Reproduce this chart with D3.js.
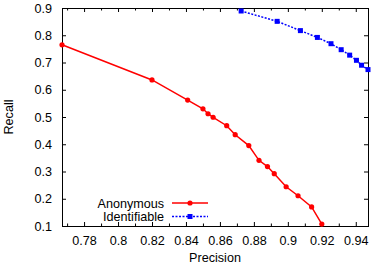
<!DOCTYPE html>
<html>
<head>
<meta charset="utf-8">
<script src="https://cdn.jsdelivr.net/npm/d3@7"></script>
<style>
  body { margin: 0; background: #fff; }
</style>
</head>
<body>
<div id="my_dataviz"></div>
<script>
// values
const anonPrecision = [0.767, 0.820, 0.841, 0.850, 0.853, 0.856, 0.864, 0.869, 0.877, 0.883, 0.888, 0.892, 0.899, 0.906, 0.914, 0.920];
const anonRecall    = [0.765, 0.636, 0.562, 0.530, 0.512, 0.499, 0.468, 0.435, 0.395, 0.341, 0.318, 0.292, 0.244, 0.211, 0.170, 0.107];
const identPrecision = [0.8725, 0.8937, 0.9074, 0.9174, 0.9254, 0.9314, 0.9364, 0.9404, 0.9434, 0.9472];
const identRecall    = [0.889, 0.851, 0.817, 0.792, 0.769, 0.747, 0.727, 0.708, 0.690, 0.674];
const xTicks = [0.78, 0.8, 0.82, 0.84, 0.86, 0.88, 0.9, 0.92, 0.94];
const xMinorTicks = [0.77, 0.79, 0.81, 0.83, 0.85, 0.87, 0.89, 0.91, 0.93];
const yTicks = [0.1, 0.2, 0.3, 0.4, 0.5, 0.6, 0.7, 0.8, 0.9];
const seriesNames = ['Anonymous', 'Identifiable'];

const margin = {top: 8, right: 6, bottom: 41, left: 62};
const width = 374;
const height = 267;
const innerWidth = width - margin.left - margin.right;
const innerHeight = height - margin.top - margin.bottom;
const fontFamily = '"Liberation Sans", Arial, Helvetica, sans-serif';
const fontSize = '12.6px';
const anonColor = '#ff0000';
const identColor = '#0000ff';

const xScale = d3.scaleLinear().domain([0.767, 0.9472]).range([0, innerWidth]);
const yScale = d3.scaleLinear().domain([0.1, 0.9]).range([innerHeight, 0]);

const svg = d3.select('#my_dataviz')
  .append('svg')
    .attr('width', width)
    .attr('height', height)
    .style('font-family', fontFamily)
    .style('font-size', fontSize);

const g = svg.append('g')
  .attr('transform', `translate(${margin.left},${margin.top})`);

// inward ticks on all four sides, gnuplot style
const styleAxis = sel => {
  sel.select('.domain').remove();
  sel.selectAll('.tick line').attr('stroke', '#000');
  sel.selectAll('.tick text').attr('fill', '#000').style('font-size', fontSize).style('font-family', fontFamily);
};
const ticksOnly = sel => {
  sel.select('.domain').remove();
  sel.selectAll('.tick line').attr('stroke', '#000');
  sel.selectAll('.tick text').remove();
};

g.append('g')
  .attr('transform', `translate(0,${innerHeight})`)
  .call(d3.axisBottom(xScale).tickValues(xTicks).tickFormat(d3.format('')).tickSizeInner(-4).tickPadding(10))
  .call(styleAxis);
g.append('g')
  .attr('transform', `translate(0,${innerHeight})`)
  .call(d3.axisBottom(xScale).tickValues(xMinorTicks).tickSizeInner(-2.5))
  .call(ticksOnly);
g.append('g')
  .call(d3.axisTop(xScale).tickValues(xTicks).tickSizeInner(-4))
  .call(ticksOnly);
g.append('g')
  .call(d3.axisTop(xScale).tickValues(xMinorTicks).tickSizeInner(-2.5))
  .call(ticksOnly);
g.append('g')
  .call(d3.axisLeft(yScale).tickValues(yTicks).tickFormat(d3.format('.1f')).tickSizeInner(-4).tickPadding(10))
  .call(styleAxis);
g.append('g')
  .attr('transform', `translate(${innerWidth},0)`)
  .call(d3.axisRight(yScale).tickValues(yTicks).tickSizeInner(-4))
  .call(ticksOnly);

g.append('rect')
  .attr('x', 0.5).attr('y', 0.5)
  .attr('width', innerWidth).attr('height', innerHeight)
  .attr('fill', 'none')
  .attr('stroke', '#000');

svg.append('text')
  .attr('x', margin.left + innerWidth / 2)
  .attr('y', height - 5)
  .attr('text-anchor', 'middle')
  .text('Precision');

svg.append('text')
  .attr('transform', `translate(13,${margin.top + innerHeight / 2}) rotate(-90)`)
  .attr('text-anchor', 'middle')
  .text('Recall');

const anonData = anonPrecision.map((p, i) => ({p: p, r: anonRecall[i]}));
const identData = identPrecision.map((p, i) => ({p: p, r: identRecall[i]}));

const line = d3.line().x(d => xScale(d.p)).y(d => yScale(d.r));

g.append('path')
  .datum(anonData)
  .attr('d', line)
  .attr('fill', 'none')
  .attr('stroke', anonColor)
  .attr('stroke-width', 1.5);

g.selectAll('.anon-dot')
  .data(anonData)
  .join('circle')
    .attr('class', 'anon-dot')
    .attr('cx', d => xScale(d.p))
    .attr('cy', d => yScale(d.r))
    .attr('r', 2.6)
    .attr('fill', anonColor);

g.append('path')
  .datum(identData)
  .attr('d', line)
  .attr('fill', 'none')
  .attr('stroke', identColor)
  .attr('stroke-width', 1.5)
  .attr('stroke-dasharray', '2,1.5');

g.selectAll('.ident-dot')
  .data(identData)
  .join('rect')
    .attr('class', 'ident-dot')
    .attr('x', d => xScale(d.p) - 2.5)
    .attr('y', d => yScale(d.r) - 2.5)
    .attr('width', 5)
    .attr('height', 5)
    .attr('fill', identColor);

// legend
const legendY = [203, 216.5];
const legend = svg.append('g');
seriesNames.forEach((name, i) => {
  const y = legendY[i];
  const color = i === 0 ? anonColor : identColor;
  legend.append('text')
    .attr('x', 164)
    .attr('y', y + 4.5)
    .attr('text-anchor', 'end')
    .text(name);
  legend.append('line')
    .attr('x1', 172).attr('x2', 208)
    .attr('y1', y).attr('y2', y)
    .attr('stroke', color)
    .attr('stroke-width', 1.5)
    .attr('stroke-dasharray', i === 0 ? null : '2,1.5');
  if (i === 0) {
    legend.append('circle').attr('cx', 190).attr('cy', y).attr('r', 2.6).attr('fill', color);
  } else {
    legend.append('rect').attr('x', 187.5).attr('y', y - 2.5).attr('width', 5).attr('height', 5).attr('fill', color);
  }
});
</script>
</body>
</html>
